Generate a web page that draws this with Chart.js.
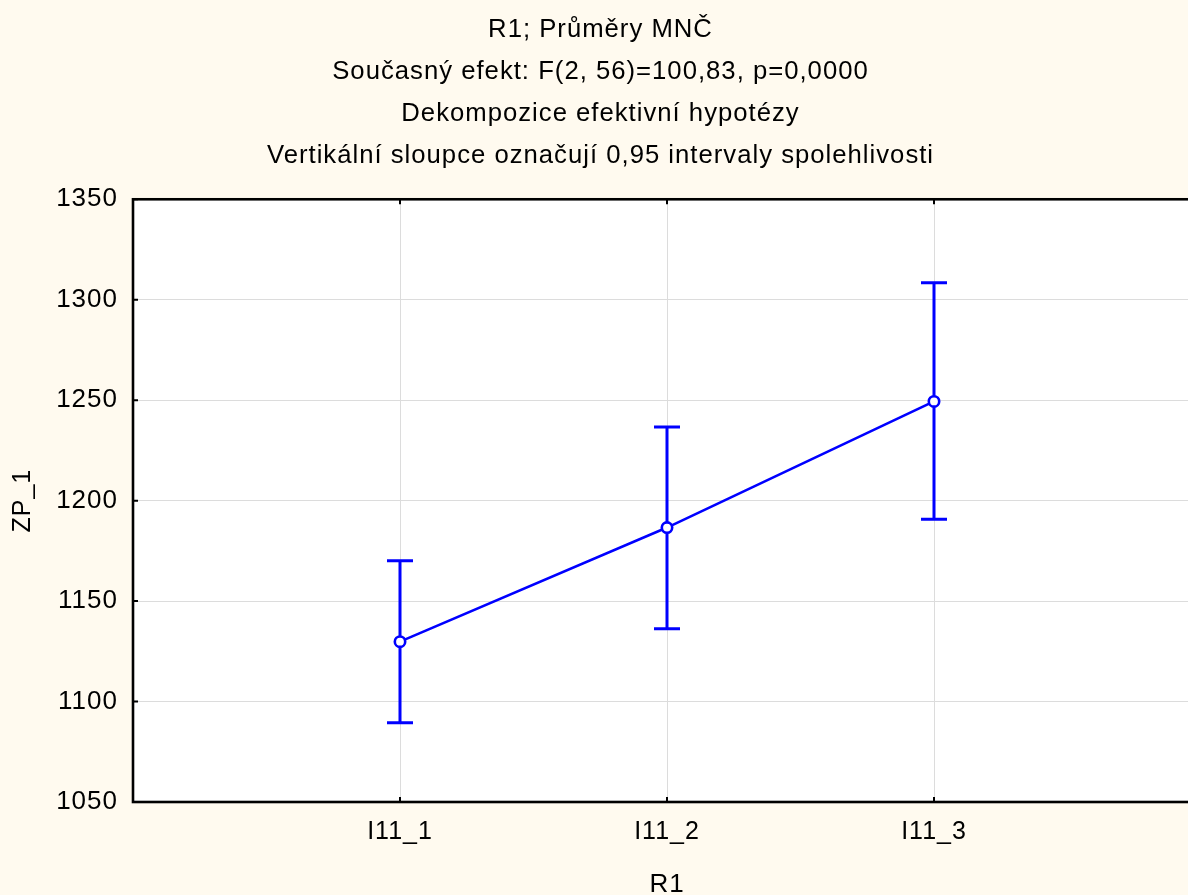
<!DOCTYPE html>
<html>
<head>
<meta charset="utf-8">
<script src="https://cdn.jsdelivr.net/npm/chart.js@4.4.1/dist/chart.umd.min.js"></script>
<style>
  html, body { margin: 0; padding: 0; background: #FFFAEF; overflow: hidden; }
  #wrap { position: relative; width: 1210px; height: 895px; }
</style>
</head>
<body>
<div id="wrap"><canvas id="c"></canvas></div>
<script>
// Category levels of factor R1
const categories = ['I11_1', 'I11_2', 'I11_3'];
// Least-squares means of ZP_1
const means = [1129.8, 1186.6, 1249.4];
// 0.95 confidence interval bounds
const ciLower = [1089.4, 1136.2, 1190.8];
const ciUpper = [1170.1, 1236.6, 1308.4];
// Value axis range and tick step
const yMin = 1050, yMax = 1350, yStep = 50;
const titleLines = [
  'R1; Průměry MNČ',
  'Současný efekt: F(2, 56)=100,83, p=0,0000',
  'Dekompozice efektivní hypotézy',
  'Vertikální sloupce označují 0,95 intervaly spolehlivosti'
];

const FONT = 'Liberation Sans';
const BLUE = '#0000FF';
Chart.defaults.font.family = FONT;
Chart.defaults.color = '#000';

// slightly spaced lettering for all text
const lettering = {
  id: 'lettering',
  beforeDraw(chart) { chart.ctx.letterSpacing = '1px'; }
};

// white plotting area on the cream page
const plotFill = {
  id: 'plotFill',
  beforeDraw(chart) {
    const { ctx, chartArea: a } = chart;
    ctx.save();
    ctx.fillStyle = '#FFFFFF';
    ctx.fillRect(a.left, a.top, a.right - a.left, a.bottom - a.top);
    ctx.restore();
  }
};

// vertical confidence-interval whiskers with caps
const errorBars = {
  id: 'errorBars',
  beforeDatasetsDraw(chart) {
    const { ctx, scales: { x, y } } = chart;
    ctx.save();
    ctx.strokeStyle = BLUE;
    ctx.lineWidth = 3;
    ctx.lineCap = 'butt';
    const cap = 13;
    categories.forEach((c, i) => {
      const px = x.getPixelForValue(i + 1);
      const lo = y.getPixelForValue(ciLower[i]);
      const hi = y.getPixelForValue(ciUpper[i]);
      ctx.beginPath();
      ctx.moveTo(px, hi); ctx.lineTo(px, lo);
      ctx.moveTo(px - cap, hi); ctx.lineTo(px + cap, hi);
      ctx.moveTo(px - cap, lo); ctx.lineTo(px + cap, lo);
      ctx.stroke();
    });
    ctx.restore();
  }
};

// black frame with short inward tick marks
const frame = {
  id: 'frame',
  afterDatasetsDraw(chart) {
    const { ctx, chartArea: a, scales: { x, y } } = chart;
    ctx.save();
    ctx.strokeStyle = '#000';
    ctx.lineWidth = 2;
    const t = 5;
    ctx.beginPath();
    y.ticks.forEach(tk => {
      const py = y.getPixelForValue(tk.value);
      ctx.moveTo(a.left, py); ctx.lineTo(a.left + t, py);
      ctx.moveTo(a.right, py); ctx.lineTo(a.right - t, py);
    });
    x.ticks.forEach(tk => {
      const px = x.getPixelForValue(tk.value);
      ctx.moveTo(px, a.bottom); ctx.lineTo(px, a.bottom - t);
      ctx.moveTo(px, a.top); ctx.lineTo(px, a.top + t);
    });
    ctx.stroke();
    ctx.lineWidth = 2.6;
    ctx.strokeRect(a.left, a.top, a.right - a.left, a.bottom - a.top);
    ctx.restore();
  }
};

new Chart(document.getElementById('c'), {
  type: 'line',
  data: {
    datasets: [{
      data: means.map((m, i) => ({ x: i + 1, y: m })),
      borderColor: BLUE,
      borderWidth: 2.6,
      pointRadius: 5.2,
      pointBorderWidth: 2.6,
      pointBorderColor: BLUE,
      pointBackgroundColor: '#FFFFFF',
      fill: false,
      tension: 0
    }]
  },
  options: {
    responsive: true,
    maintainAspectRatio: false,
    animation: false,
    events: [],
    layout: { padding: { top: 0, left: 0, right: 9, bottom: 0 } },
    plugins: {
      legend: { display: false },
      tooltip: { enabled: false },
      title: {
        display: true,
        text: titleLines,
        color: '#000',
        font: { family: FONT, size: 25.7, weight: 'normal', lineHeight: 1.637 },
        padding: { top: 9, bottom: 22 }
      }
    },
    scales: {
      x: {
        type: 'linear',
        min: 0,
        max: categories.length + 1,
        afterBuildTicks(s) { s.ticks = categories.map((c, i) => ({ value: i + 1 })); },
        afterFit(s) { s.height = 93; },
        grid: { color: '#DCDCDC', lineWidth: 1, drawTicks: false },
        border: { display: false },
        ticks: {
          padding: 15,
          color: '#000',
          font: { family: FONT, size: 25 },
          callback: v => categories[v - 1]
        },
        title: {
          display: true,
          text: 'R1',
          color: '#000',
          font: { family: FONT, size: 26, lineHeight: 0.8 },
          padding: { top: 0, bottom: 0 }
        }
      },
      y: {
        min: yMin,
        max: yMax,
        afterFit(s) { s.width = 133; },
        grid: { color: '#DCDCDC', lineWidth: 1, drawTicks: false },
        border: { display: false },
        ticks: {
          stepSize: yStep,
          padding: 15,
          color: '#000',
          font: { family: FONT, size: 26 },
          callback: v => String(v)
        },
        title: {
          display: true,
          text: 'ZP_1',
          color: '#000',
          font: { family: FONT, size: 25, lineHeight: 1 },
          padding: { top: 11, bottom: 0 }
        }
      }
    }
  },
  plugins: [lettering, plotFill, errorBars, frame]
});
</script>
</body>
</html>
